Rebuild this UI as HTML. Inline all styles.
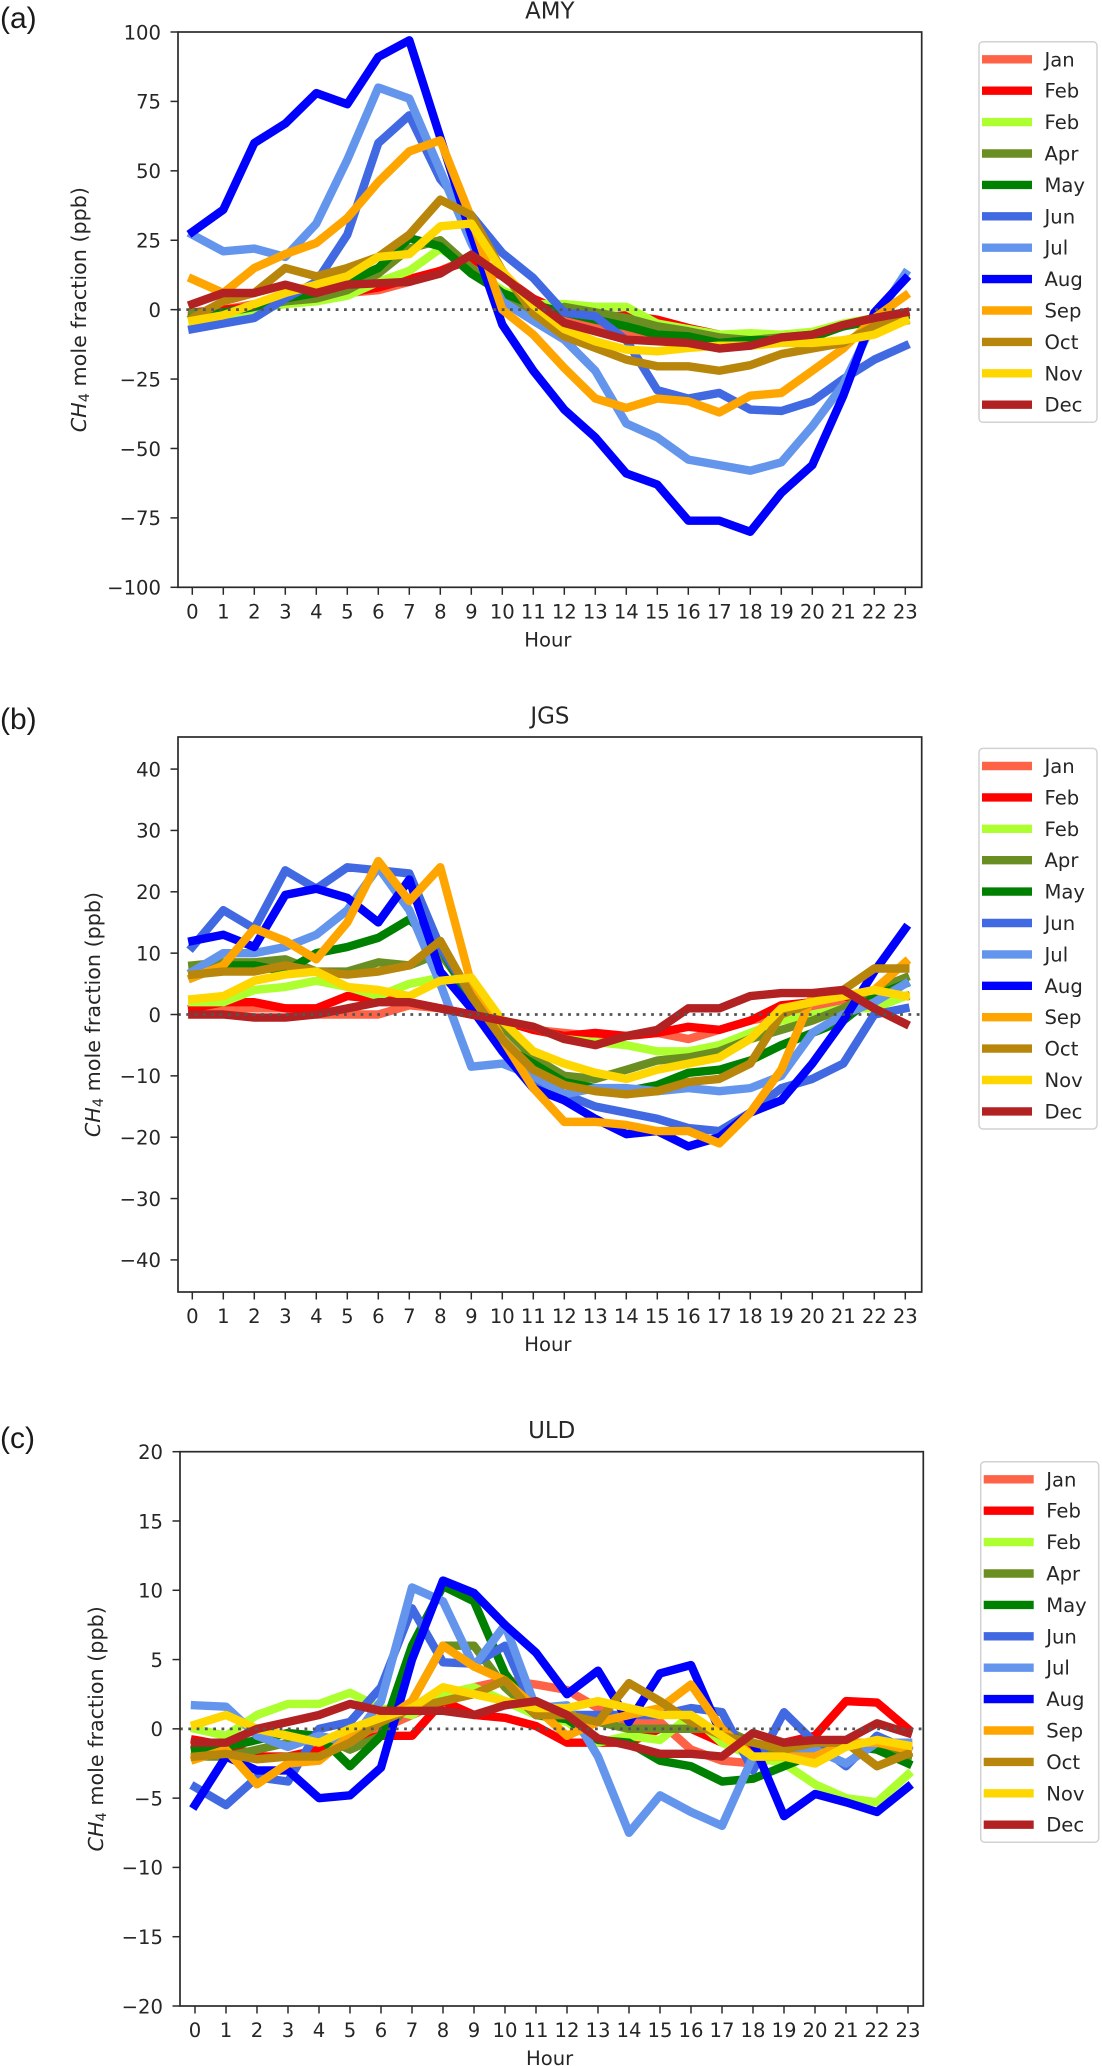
<!DOCTYPE html>
<html lang="en">
<head>
<meta charset="utf-8">
<title>CH4 diurnal cycles at AMY, JGS and ULD</title>
<style>
  html, body { margin: 0; padding: 0; background: #fff; }
  #figure { display: block; width: 1102px; height: 2066px; }
  text { font-family: "DejaVu Sans", "Liberation Sans", sans-serif; fill: #262626; }
  .panel-letter { font-family: "Liberation Sans", sans-serif; font-size: 30px; fill: #1a1a1a; }
</style>
</head>
<body>
<svg id="figure" xmlns="http://www.w3.org/2000/svg" width="1102" height="2066" viewBox="0 0 1102 2066">
  <rect x="0" y="0" width="1102" height="2066" fill="#ffffff"/>
  <text class="panel-letter" x="0" y="28">(a)</text>
  <text class="panel-letter" x="0" y="729">(b)</text>
  <text class="panel-letter" x="0" y="1448">(c)</text>
</svg>
<script>
const hours = [0,1,2,3,4,5,6,7,8,9,10,11,12,13,14,15,16,17,18,19,20,21,22,23];
const monthLabels = ["Jan","Feb","Feb","Apr","May","Jun","Jul","Aug","Sep","Oct","Nov","Dec"];
const monthColors = ["#ff6347","#ff0000","#adff2f","#6b8e23","#008000","#4169e1","#6495ed","#0000ff","#ffa500","#b8860b","#ffd700","#b22222"];

const amyTicks = [100,75,50,25,0,-25,-50,-75,-100];
const amyJan = [-2,0,2,3,4,6,7,10,14,19,13,3,-3,-6,-8,-10,-12,-12,-11,-10,-9,-6,-3,-1];
const amyFeb = [-1,0,1,3,4,6,8,11,14,18,12,4,-1,-3,-2,-3.6,-6.6,-9,-10,-10,-9,-6,-3,-1];
const amyMar = [-3,-2,0,2,3,5,10,14,22,15,7,2,2,1,1,-5,-7,-9,-8.5,-9,-8,-5,-3,-2];
const amyApr = [-1,-1,1,3,4,7,13,22,25,15,6,-2,1,-1,-3,-6,-7.8,-10,-11,-10,-9,-6,-3,-3];
const amyMay = [-3,-1,1,4,6,10,15,25.8,22.8,13,6,1.8,-1,-3.6,-6,-9,-9.6,-12,-11,-11,-10,-6,-4,-2];
const amyJun = [-7,-5,-3,4,10,27,60,70,47,34,20.4,11.4,-1,-2.4,-11,-29,-32,-30,-36,-36.5,-33,-25,-18,-13];
const amyJul = [27,21,22,19,31,54,80,76,50,24,3,-4,-10.8,-22,-41,-46,-54,-56,-58,-55,-42,-27,-4,13];
const amyAug = [28,36,60,67,78,74,91,97,62,27,-5.4,-22,-36,-46,-59,-63,-76,-76,-80,-66,-56,-31,-1,11];
const amySep = [11,6,15,20,24,33,46,57,61,33,0,-9,-21,-32,-35.4,-32,-33,-37,-31,-30,-22,-14,-3,5];
const amyOct = [-3,3,6,15,12,15,19,27,39.6,34,14,-1.2,-9.6,-13.8,-18,-20.4,-20.4,-22,-20,-16,-14,-12,-6,-4];
const amyNov = [-4,-2,2,6,9,12,19,20,30,31,13.8,1.8,-7,-11.4,-14.4,-15,-13.8,-13,-13,-12,-12,-11,-9,-4];
const amyDec = [2,6,6,9,6,9,9.5,10,13,19.8,12,3.6,-4.8,-7.8,-10.8,-11.4,-12,-14,-13,-10,-9,-5.5,-3,-1];

const jgsTicks = [40,30,20,10,0,-10,-20,-30,-40];
const jgsJan = [0.5,1,1,1,0,0,0,1.5,1,0,-1,-2.5,-3,-3.5,-3.5,-3,-4,-2.5,-1,0,1,2,3,3];
const jgsFeb = [1,2,2,1,1,3,2.5,2,1,0,-1,-2.5,-3.5,-3,-3.5,-3,-2,-2.5,-1,1.5,2,3,2,3];
const jgsMar = [2,2,4,4.5,5.5,4.5,3,5,6,3,-1,-2,-4,-4.5,-5,-6,-6,-5,-3,-1,0,1,1,3];
const jgsApr = [8,8.5,8.5,9,7,7,8.5,8,10,3,-2,-7,-10,-10.5,-9,-7.5,-7,-6,-4,-2.5,-1,1,4,6];
const jgsMay = [6,8,8,7,10,11,12.5,15.5,11,2,-5,-8,-11,-12,-12.5,-11.5,-9.5,-9,-7.5,-5,-3,-1,3,5];
const jgsJun = [11,17,14,23.5,20.5,24,23.5,23,11,3,-5,-11,-13,-15,-16,-17,-18.5,-19,-16,-12,-10.5,-8,0,1];
const jgsJul = [7,10,10,11,13,17,24,17,5,-8.5,-8,-10,-13,-12,-12,-12.5,-12,-12.5,-12,-10,-3,0,2,5];
const jgsAug = [12,13,11,19.5,20.5,19,15,22,7,1,-6,-12,-14,-17,-19.5,-19,-21.5,-20,-16,-14,-8,-1,7,14];
const jgsSep = [6,8,14,12,9,15,25,18.5,24,5,-4,-12,-17.5,-17.5,-18,-19,-19,-21,-16,-9,3,3,4,8.5];
const jgsOct = [6.5,7,7,8,7,6.5,7,8,12,3,-4,-9,-11.5,-12.5,-13,-12.5,-11,-10.5,-8,0,2,4,7.5,7.5];
const jgsNov = [2.5,3,5.5,6.5,7,4.5,4,3,5.5,6,-1,-6,-8,-9.5,-10.5,-9,-8,-7,-4,1,2,3,4,3];
const jgsDec = [0,0,-0.5,-0.5,0,1,2,2,1,0,-1,-2,-4,-5,-3.5,-2.5,1,1,3,3.5,3.5,4,1,-1.5];

const uldTicks = [20,15,10,5,0,-5,-10,-15,-20];
const uldJan = [-1.5,-1,-2,-2,-1.5,-1,0,1,2,3,3.5,3.2,2.8,1.5,0.5,0.5,-1.5,-2.3,-2.5,-2,-1.5,-1,-1,-1];
const uldFeb = [-0.8,-1.2,-2,-2,-1.5,-1,-0.5,-0.5,2,1,0.8,0.2,-1,-1,-1,0,0,-1,-1.5,-1,-0.5,2,1.9,0];
const uldMar = [0,-0.5,1,1.8,1.8,2.6,1.5,1,2.5,3,2,1,0.5,-1,-0.5,-0.8,1,-1,-2,-2.5,-4,-5,-5.3,-3.3];
const uldApr = [-2,-2,-1.5,-1,-0.5,-1.5,-0.5,2,6,6,3,1,1,0.5,0,0,0,0,-1,-2,-2,-1,-1.5,-2];
const uldMay = [-1.5,-1.3,-0.8,-0.3,-0.5,-2.7,-0.5,6,10.3,9.2,4,1,0.7,-0.8,-1,-2.3,-2.7,-3.8,-3.6,-2.7,-1.8,-1.2,-1.5,-2.5];
const uldJun = [-4.2,-5.5,-3.5,-3.8,0,0.5,3,8.7,4.8,4.7,6,1,1,1,1,1,1.5,1.2,-3,1.2,-1,-2.7,-0.5,-1.5];
const uldJul = [1.7,1.6,-0.5,-1.3,-0.5,-1,2,10.2,9.2,4.5,7.5,1.5,1.7,-2,-7.5,-4.8,-6,-7,-2,-2,-1.5,-2.5,-1,-1];
const uldAug = [-5.5,-2,-3,-3,-5,-4.8,-2.8,5,10.7,9.8,7.5,5.5,2.5,4.2,0.5,4,4.6,-0.5,-1,-6.3,-4.7,-5.3,-6,-4.2];
const uldSep = [-2.2,-1.5,-4,-2.5,-2.3,-0.5,0.5,2,6,4.5,3.5,1.5,-0.5,0.5,1,1.5,3.2,0,-2,-2,-2,-1,-1,-1.5];
const uldOct = [-2,-1.8,-2.2,-2,-2,-1,0.5,1.5,2,2.5,3.5,1,1,0.5,3.3,2,0.5,-0.5,-1,-1.5,-1,-1,-2.7,-1.8];
const uldNov = [0.3,1,0,-0.5,-1,0,0.8,1.5,3,2.5,2,1.5,1.5,2,1.5,1,1,-0.5,-2,-2,-2.5,-1.3,-0.8,-1.2];
const uldDec = [-1,-1,0,0.5,1,1.8,1.3,1.3,1.3,1,1.7,2,1,-0.7,-1.2,-1.8,-1.8,-2,-0.3,-1,-0.8,-0.8,0.4,-0.3];

const amySeries = [amyJan,amyFeb,amyMar,amyApr,amyMay,amyJun,amyJul,amyAug,amySep,amyOct,amyNov,amyDec];
const jgsSeries = [jgsJan,jgsFeb,jgsMar,jgsApr,jgsMay,jgsJun,jgsJul,jgsAug,jgsSep,jgsOct,jgsNov,jgsDec];
const uldSeries = [uldJan,uldFeb,uldMar,uldApr,uldMay,uldJun,uldJul,uldAug,uldSep,uldOct,uldNov,uldDec];

const NS = "http://www.w3.org/2000/svg";
const figure = document.getElementById("figure");
const TICK_FONT = 19.6;
const Y_TITLE_FONT = 20.7;
const AXIS_COLOR = "#2a2a2a";

function make(tag, parent, attrs, content) {
  const el = document.createElementNS(NS, tag);
  for (const k in attrs) el.setAttribute(k, attrs[k]);
  if (content !== undefined) el.textContent = content;
  parent.appendChild(el);
  return el;
}

function fmt(v) {
  return v < 0 ? "\u2212" + Math.abs(v) : String(v);
}

function drawPanel(p) {
  const h = p.bottom - p.top;
  const xScale = function (hour) { return p.x0 + p.dx * hour; };
  const yScale = function (v) { return p.top + (p.yMax - v) / (p.yMax - p.yMin) * h; };

  const g = make("g", figure, {});
  
  

  const title = make("text", g, { x: (p.left + p.right) / 2, y: p.top - 13.7, "text-anchor": "middle", "font-size": 22.9 }, p.title);
  
  

  const seriesGroup = make("g", g, { fill: "none" });
  
  
  p.series.forEach(function (values, i) {
    const d = values.map(function (v, j) {
      return (j ? "L" : "M") + xScale(hours[j]).toFixed(2) + " " + yScale(v).toFixed(2);
    }).join("");
    const line = make("path", seriesGroup, {
      d: d, stroke: monthColors[i], "stroke-width": 8.4,
      "stroke-linejoin": "round", "stroke-linecap": "square", fill: "none"
    });
    
    
  });

  const zero = make("line", g, {
    x1: p.left, x2: p.right, y1: yScale(0), y2: yScale(0),
    stroke: "#555555", "stroke-width": 2.7, "stroke-dasharray": "2.8 5.5"
  });
  
  

  const frame = make("rect", g, {
    x: p.left, y: p.top, width: p.right - p.left, height: h,
    fill: "none", stroke: AXIS_COLOR, "stroke-width": 1.7
  });
  
  

  hours.forEach(function (hour) {
    const x = xScale(hour);
    const tick = make("line", g, { x1: x, x2: x, y1: p.bottom, y2: p.bottom + 7.5, stroke: AXIS_COLOR, "stroke-width": 1.5 });
    
    
    const label = make("text", g, { x: x, y: p.bottom + 31, "text-anchor": "middle", "font-size": TICK_FONT }, String(hour));
    
    
  });

  p.ticks.forEach(function (v) {
    const y = yScale(v);
    const tick = make("line", g, { x1: p.left - 7.5, x2: p.left, y1: y, y2: y, stroke: AXIS_COLOR, "stroke-width": 1.5 });
    
    
    const label = make("text", g, { x: p.left - 17, y: y + 7.3, "text-anchor": "end", "font-size": TICK_FONT }, fmt(v));
    
    
  });

  const xTitle = make("text", g, { x: (p.left + p.right) / 2 - 2, y: p.bottom + 59, "text-anchor": "middle", "font-size": TICK_FONT }, "Hour");
  
  

  const yc = (p.top + p.bottom) / 2;
  const yTitle = make("text", g, { transform: "translate(" + p.yLabelX + " " + yc + ") rotate(-90)", "text-anchor": "middle", "font-size": Y_TITLE_FONT });
  
  
  make("tspan", yTitle, { "font-style": "italic" }, "CH");
  make("tspan", yTitle, { "font-size": 14.5, dy: 3 }, "4");
  make("tspan", yTitle, { dy: -3 }, " mole fraction (ppb)");

  const legend = make("g", g, {});
  
  
  const rowH = 31.4;
  const box = make("rect", legend, {
    x: p.legendX, y: p.legendY, width: 118, height: 17.6 * 2 + rowH * 11, rx: 4, ry: 4,
    fill: "#ffffff", stroke: "#d2d2d2", "stroke-width": 1.5
  });
  
  
  monthLabels.forEach(function (name, i) {
    const y = p.legendY + 17.6 + rowH * i;
    const swatch = make("line", legend, { x1: p.legendX + 3, x2: p.legendX + 53, y1: y, y2: y, stroke: monthColors[i], "stroke-width": 8.4 });
    
    
    const text = make("text", legend, { x: p.legendX + 65.5, y: y + 7, "font-size": TICK_FONT }, name);
    
    
  });
}

drawPanel({ id: "amy", title: "AMY", series: amySeries, ticks: amyTicks, yMax: 100, yMin: -100,
  left: 178, right: 921.7, top: 32, bottom: 587.3, x0: 192.3, dx: 31, yLabelX: 86, legendX: 979, legendY: 41.7 });
drawPanel({ id: "jgs", title: "JGS", series: jgsSeries, ticks: jgsTicks, yMax: 45.23, yMin: -45.23,
  left: 178, right: 921.7, top: 737, bottom: 1292, x0: 192.3, dx: 31, yLabelX: 100, legendX: 979, legendY: 748.4 });
drawPanel({ id: "uld", title: "ULD", series: uldSeries, ticks: uldTicks, yMax: 20, yMin: -20,
  left: 180, right: 923.3, top: 1451.7, bottom: 2006, x0: 195, dx: 31, yLabelX: 103, legendX: 980.7, legendY: 1461.7 });
</script>
</body>
</html>
